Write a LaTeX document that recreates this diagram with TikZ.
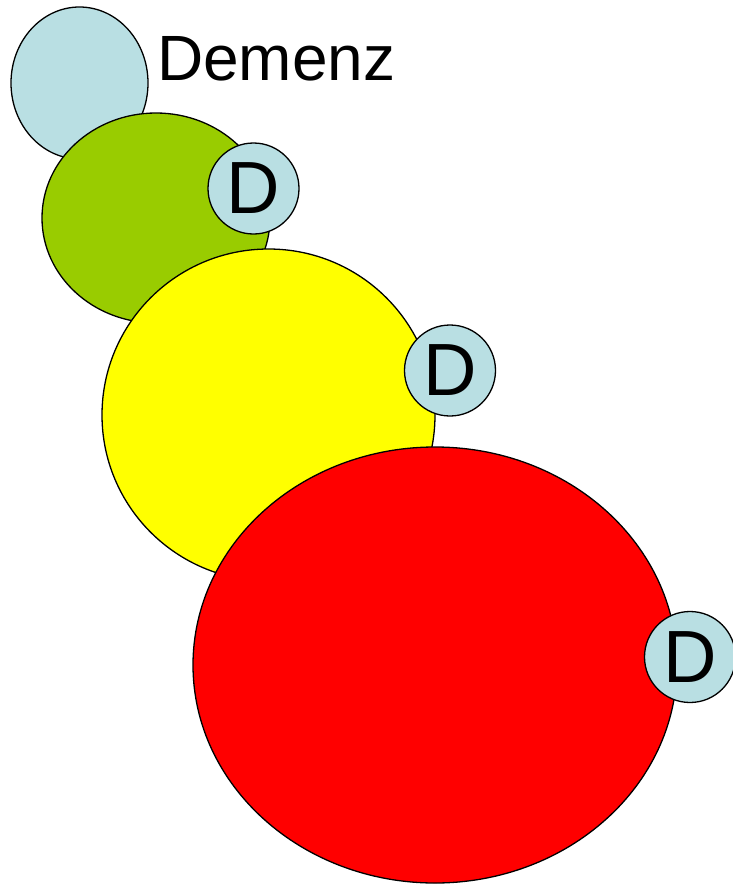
\documentclass[tikz,border=0pt]{standalone}
\usepackage{fontspec}
\setmainfont{Liberation Sans}
\usepackage{xcolor}
\usetikzlibrary{positioning, shapes.geometric}

\definecolor{paleblue}{RGB}{185,223,227}
\definecolor{leafgreen}{RGB}{153,204,0}
\definecolor{brightyellow}{RGB}{255,255,0}
\definecolor{brightred}{RGB}{255,0,0}

\begin{document}
\begin{tikzpicture}[x=1pt,y=-1pt,
    blob/.style={ellipse, draw, line width=1.3pt, inner sep=0pt},
    dmark/.style={circle, draw, line width=1.3pt, fill=paleblue, inner sep=0pt,
      minimum size=91pt, font=\fontsize{74}{74}\selectfont}]
  \useasboundingbox (0,0) rectangle (732,884);

  % Start
  \node[blob, fill=paleblue, minimum width=137pt, minimum height=152pt] (start) at (79.5,83) {};
  \node[anchor=base west, inner sep=0pt, font=\fontsize{64}{64}\selectfont] (title) at (157,80) {Demenz};

  % Stages, each with its D
  \foreach \n/\col/\cx/\cy/\w/\h/\dx/\dy in {1/leafgreen/156/218/228/210/253.5/188.5,
      2/brightyellow/268.5/415/333/332/450/370.5,
      3/brightred/435/665/484/436/690/657} {
    \node[blob, fill=\col, minimum width=\w pt, minimum height=\h pt] (stage\n) at (\cx,\cy) {};
    \node[dmark] (d\n) at (\dx,\dy) {D};
  }
\end{tikzpicture}
\end{document}
